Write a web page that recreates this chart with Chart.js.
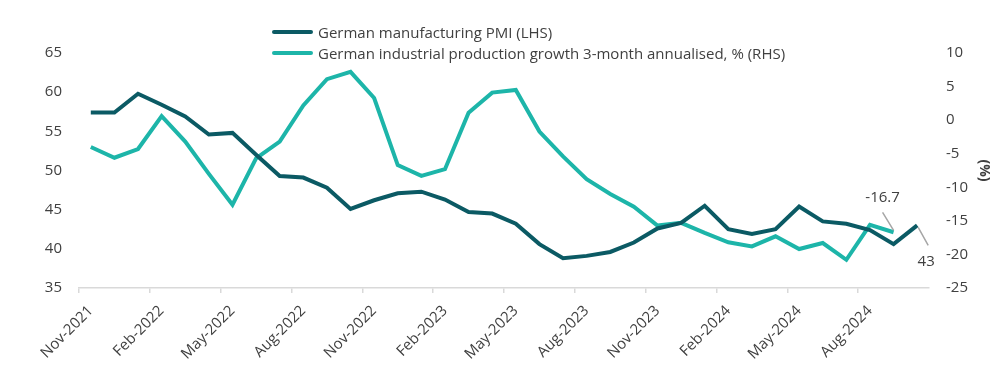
<!DOCTYPE html>
<html>
<head>
  <meta charset="UTF-8">
  <title>German manufacturing PMI vs industrial production</title>
  <script src="https://cdn.jsdelivr.net/npm/chart.js"></script>
  <style>
    html, body {
      margin: 0;
      padding: 0;
      background: #ffffff;
    }
    #wrap {
      position: relative;
      width: 999px;
      height: 382px;
    }
    #legend {
      position: absolute;
      left: 272px;
      top: 21px;
      font-family: "Open Sans", sans-serif;
      font-size: 15px;
      color: #404040;
    }
    .item {
      display: flex;
      align-items: center;
      height: 21px;
      white-space: nowrap;
    }
    .swatch {
      width: 41px;
      height: 4px;
      border-radius: 2px;
      margin-right: 5px;
    }
  </style>
</head>
<body>

  <div id="wrap">
    <canvas id="lineChart" width="999" height="382"></canvas>
    <div id="legend"></div>
  </div>

  <script>
    // monthly categories, Nov-2021 .. Oct-2024
    const months = [
      'Nov-2021', 'Dec-2021', 'Jan-2022', 'Feb-2022', 'Mar-2022', 'Apr-2022',
      'May-2022', 'Jun-2022', 'Jul-2022', 'Aug-2022', 'Sep-2022', 'Oct-2022',
      'Nov-2022', 'Dec-2022', 'Jan-2023', 'Feb-2023', 'Mar-2023', 'Apr-2023',
      'May-2023', 'Jun-2023', 'Jul-2023', 'Aug-2023', 'Sep-2023', 'Oct-2023',
      'Nov-2023', 'Dec-2023', 'Jan-2024', 'Feb-2024', 'Mar-2024', 'Apr-2024',
      'May-2024', 'Jun-2024', 'Jul-2024', 'Aug-2024', 'Sep-2024', 'Oct-2024'
    ];

    // German manufacturing PMI (LHS)
    const pmi = [
      57.4, 57.4, 59.8, 58.4, 56.9, 54.6,
      54.8, 52.0, 49.3, 49.1, 47.8, 45.1,
      46.2, 47.1, 47.3, 46.3, 44.7, 44.5,
      43.2, 40.6, 38.8, 39.1, 39.6, 40.8,
      42.6, 43.3, 45.5, 42.5, 41.9, 42.5,
      45.4, 43.5, 43.2, 42.4, 40.6, 43.0
    ];

    // German industrial production growth, 3-month annualised, % (RHS)
    const ipGrowth = [
      -4.0, -5.6, -4.3, 0.6, -3.2, -8.0,
      -12.6, -5.7, -3.2, 2.2, 6.1, 7.2,
      3.3, -6.7, -8.3, -7.3, 1.1, 4.1,
      4.5, -1.7, -5.4, -8.8, -11.0, -12.9,
      -15.7, -15.3, -16.8, -18.2, -18.8, -17.3,
      -19.2, -18.3, -20.8, -15.6, -16.7
    ];

    const leftTicks = [35, 40, 45, 50, 55, 60, 65];
    const rightTicks = [-25, -20, -15, -10, -5, 0, 5, 10];

    const darkTeal = '#0b5a64';
    const lightTeal = '#1db5a9';
    const textGrey = '#404040';
    const axisGrey = '#d9d9d9';

    Chart.defaults.font.family = '"Open Sans", sans-serif';
    Chart.defaults.font.size = 15;
    Chart.defaults.color = textGrey;

    // callouts for the latest values
    const callouts = {
      id: 'callouts',
      afterDatasetsDraw(chart) {
        const c = chart.ctx;
        const ip = chart.getDatasetMeta(1).data[ipGrowth.length - 1];
        const pm = chart.getDatasetMeta(0).data[pmi.length - 1];
        c.save();
        c.strokeStyle = '#a6a6a6';
        c.lineWidth = 1.5;
        c.beginPath();
        c.moveTo(ip.x - 11, ip.y - 20);
        c.lineTo(ip.x, ip.y - 2);
        c.moveTo(pm.x + 1, pm.y + 2);
        c.lineTo(pm.x + 11, pm.y + 20);
        c.stroke();
        c.fillStyle = textGrey;
        c.font = '15px "Open Sans", sans-serif';
        c.textAlign = 'center';
        c.textBaseline = 'middle';
        c.fillText(ipGrowth[ipGrowth.length - 1].toFixed(1), ip.x - 11, ip.y - 35);
        c.fillText(String(pmi[pmi.length - 1]), pm.x + 9, pm.y + 36);
        c.restore();
      }
    };

    const ctx = document.getElementById('lineChart').getContext('2d');

    const chart = new Chart(ctx, {
      type: 'line',
      data: {
        labels: months,
        datasets: [{
          label: 'German manufacturing PMI (LHS)',
          data: pmi,
          yAxisID: 'y',
          borderColor: darkTeal,
          backgroundColor: darkTeal,
          borderWidth: 4,
          pointRadius: 0,
          tension: 0
        }, {
          label: 'German industrial production growth 3-month annualised, % (RHS)',
          data: ipGrowth,
          yAxisID: 'y1',
          borderColor: lightTeal,
          backgroundColor: lightTeal,
          borderWidth: 4,
          pointRadius: 0,
          tension: 0
        }]
      },
      options: {
        responsive: false,
        animation: false,
        layout: { padding: { top: 53, left: 0, right: 7, bottom: 0 } },
        plugins: {
          legend: { display: false },
          tooltip: { enabled: false }
        },
        scales: {
          x: {
            offset: true,
            grid: {
              offset: true,
              drawOnChartArea: false,
              drawTicks: true,
              tickLength: 5,
              lineWidth: 1.5,
              color: (c) => (c.index % 3 === 0 ? axisGrey : 'rgba(0,0,0,0)')
            },
            border: { color: axisGrey, width: 1.5 },
            ticks: {
              autoSkip: false,
              minRotation: 45,
              maxRotation: 45,
              padding: 9,
              callback: (v, i) => (i % 3 === 0 ? months[i] : '')
            },
            afterFit: (s) => { s.height = 94; }
          },
          y: {
            position: 'left',
            min: 35,
            max: 65,
            afterBuildTicks: (s) => { s.ticks = leftTicks.map(v => ({ value: v })); },
            grid: { display: false, drawTicks: false },
            border: { display: false },
            ticks: { padding: 17 },
            afterFit: (s) => { s.width = 79; }
          },
          y1: {
            position: 'right',
            min: -25,
            max: 10,
            afterBuildTicks: (s) => { s.ticks = rightTicks.map(v => ({ value: v })); },
            grid: { display: false, drawTicks: false },
            border: { display: false },
            ticks: { padding: 17 },
            title: {
              display: true,
              text: '(%)',
              font: { weight: 'bold', size: 14 },
              padding: { top: 0, bottom: 2 }
            },
            afterFit: (s) => { s.width = 63; }
          }
        }
      },
      plugins: [callouts]
    });

    // legend stacked in two rows, built from the datasets
    const legend = document.getElementById('legend');
    chart.data.datasets.forEach(ds => {
      const row = document.createElement('div');
      row.className = 'item';
      const sw = document.createElement('span');
      sw.className = 'swatch';
      sw.style.background = ds.borderColor;
      const label = document.createElement('span');
      label.textContent = ds.label;
      row.appendChild(sw);
      row.appendChild(label);
      legend.appendChild(row);
    });
  </script>

</body>
</html>
